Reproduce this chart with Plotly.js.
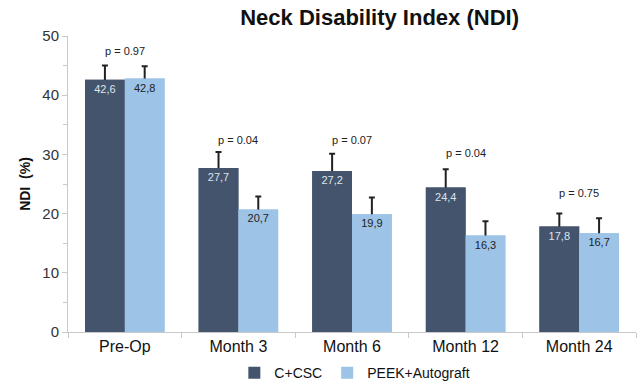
<!DOCTYPE html>
<html>
<head>
<meta charset="utf-8">
<script src="https://cdn.plot.ly/plotly-3.0.1.min.js"></script>
<style>html,body{margin:0;padding:0;background:#fff;}#chart{width:638px;height:391px;}</style>
</head>
<body>
<div id="chart"></div>
<script>
var categories = ["Pre-Op", "Month 3", "Month 6", "Month 12", "Month 24"];
var seriesNames = ["C+CSC", "PEEK+Autograft"];
var valuesCSC = [42.6, 27.7, 27.2, 24.4, 17.8];
var valuesPEEK = [42.8, 20.7, 19.9, 16.3, 16.7];
var errCSC = [2.4, 2.7, 2.9, 3.1, 2.2];
var errPEEK = [2.1, 2.2, 2.8, 2.4, 2.5];
var pLabels = ["p = 0.97", "p = 0.04", "p = 0.07", "p = 0.04", "p = 0.75"];
var pLabelY = [47.5, 32.5, 32.5, 30.3, 23.5];

var colorCSC = '#44546c';
var colorPEEK = '#9dc3e6';
var FONT = 'Arial, Liberation Sans, sans-serif';

function fmt(v){ return v.toFixed(1).replace('.', ','); }

// Base traces carry the error bars (their lower half is hidden by the overlay bars)
var base1 = {
  type: 'bar', name: seriesNames[0], x: categories, y: valuesCSC,
  marker: {color: colorCSC},
  error_y: {type: 'data', array: errCSC, color: '#222', thickness: 2, width: 3},
  hoverinfo: 'skip', showlegend: true
};
var base2 = {
  type: 'bar', name: seriesNames[1], x: categories, y: valuesPEEK,
  marker: {color: colorPEEK},
  error_y: {type: 'data', array: errPEEK, color: '#222', thickness: 2, width: 3},
  hoverinfo: 'skip', showlegend: true
};
// Overlay traces: same bars, drawn on top, carry the value labels
var over1 = {
  type: 'bar', name: seriesNames[0], x: categories, y: valuesCSC, xaxis: 'x2', yaxis: 'y2',
  marker: {color: colorCSC},
  text: valuesCSC.map(fmt), textposition: 'inside', insidetextanchor: 'end',
  textfont: {family: FONT, size: 11, color: '#dce4ee'},
  hoverinfo: 'skip', showlegend: false
};
var over2 = {
  type: 'bar', name: seriesNames[1], x: categories, y: valuesPEEK, xaxis: 'x2', yaxis: 'y2',
  marker: {color: colorPEEK},
  text: valuesPEEK.map(fmt), textposition: 'inside', insidetextanchor: 'end',
  textfont: {family: FONT, size: 11, color: '#222'},
  hoverinfo: 'skip', showlegend: false
};

var annotations = categories.map(function(c, i){
  return {x: c, y: pLabelY[i], xref: 'x', yref: 'y', text: pLabels[i], showarrow: false,
    font: {family: FONT, size: 11, color: '#222'}};
});

var layout = {
  width: 638, height: 391,
  margin: {l: 68, r: 2, t: 36, b: 52},
  paper_bgcolor: '#fff', plot_bgcolor: 'rgba(0,0,0,0)',
  barmode: 'group', bargap: 0.3, bargroupgap: 0,
  font: {family: FONT},
  title: {text: '<b>Neck Disability Index (NDI)</b>', x: 0.595, xanchor: 'center', y: 0.955, yanchor: 'middle',
    font: {family: FONT, size: 22, color: '#111'}},
  xaxis: {
    showline: true, linecolor: '#c8c8c8', linewidth: 1,
    ticks: 'outside', tickson: 'boundaries', ticklen: 5, tickcolor: '#c8c8c8',
    tickfont: {size: 16, color: '#111'}, showgrid: false, zeroline: false
  },
  yaxis: {
    range: [0, 50], dtick: 10, showline: true, linecolor: '#c8c8c8', linewidth: 1,
    ticks: 'outside', ticklen: 5, tickcolor: '#c8c8c8',
    minor: {dtick: 5, ticks: 'outside', ticklen: 4, tickcolor: '#c8c8c8'},
    tickfont: {size: 15, color: '#333'}, showgrid: false, zeroline: false,
    title: {text: '<b>NDI  (%)</b>', font: {size: 14, color: '#111'}, standoff: 8}
  },
  xaxis2: {overlaying: 'x', matches: 'x', visible: false},
  yaxis2: {overlaying: 'y', matches: 'y', range: [0, 50], visible: false},
  showlegend: true,
  legend: {orientation: 'h', x: 0.505, xanchor: 'center', y: -0.139, yanchor: 'middle',
    font: {size: 14, color: '#111'}, itemwidth: 30, tracegroupgap: 0, traceorder: 'normal'},
  annotations: annotations
};

Plotly.newPlot('chart', [base1, base2, over1, over2], layout, {displayModeBar: false, staticPlot: true});
</script>
</body>
</html>
